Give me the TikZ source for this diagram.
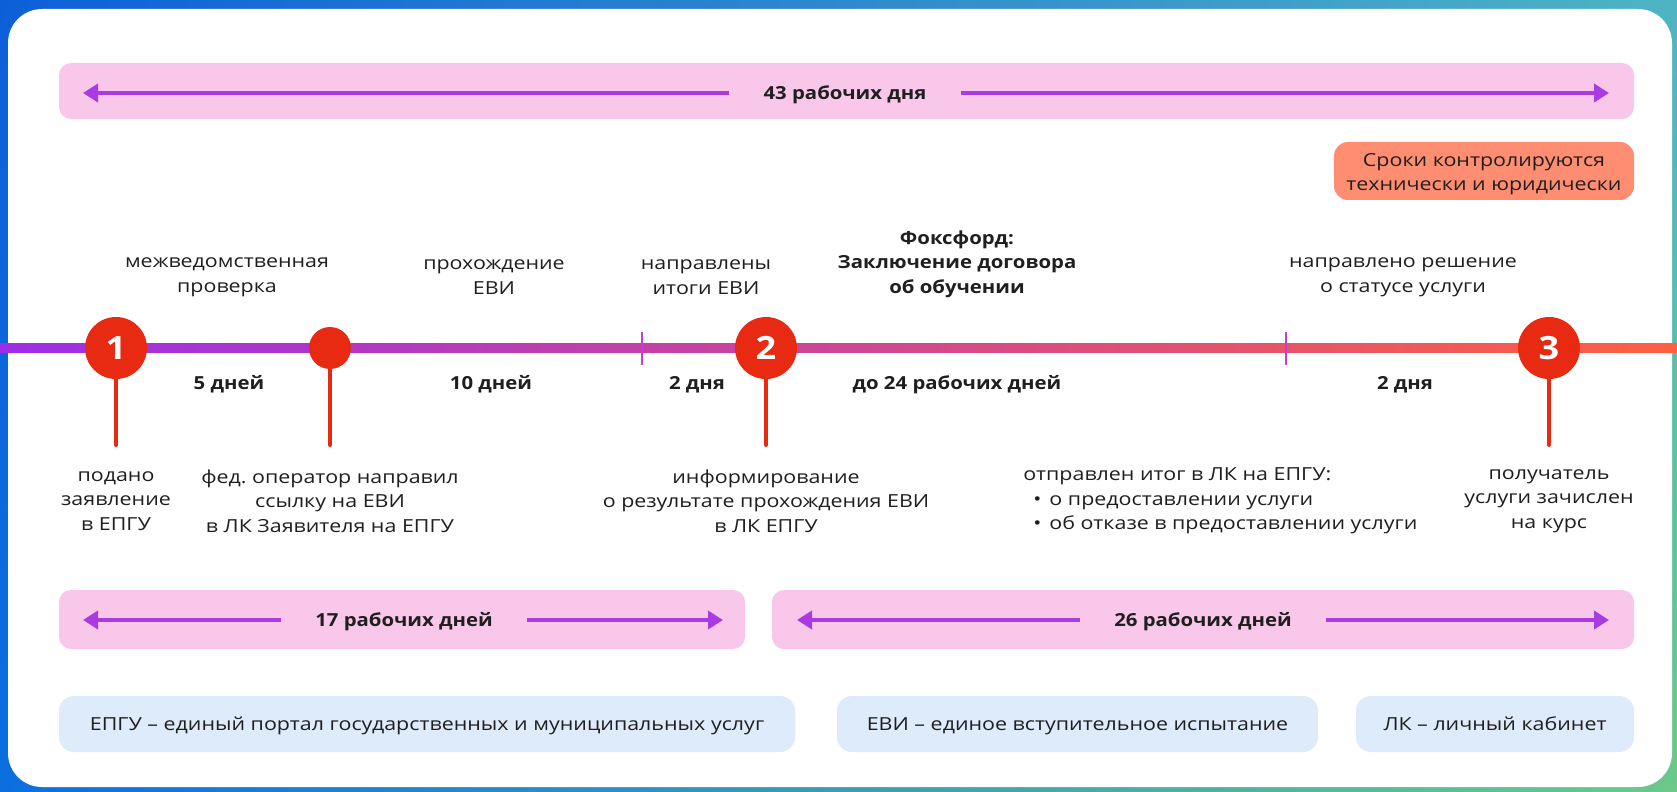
\documentclass[tikz,border=0pt]{standalone}
\usepackage{fontspec}
\setmainfont{Open Sans}[UprightFeatures={FakeStretch=1.19},BoldFeatures={FakeStretch=1.13}]
\usetikzlibrary{arrows.meta,shadings}
\definecolor{txt}{HTML}{1F1F1F}
\definecolor{pinkbar}{HTML}{F9C7E9}
\definecolor{spanpurple}{HTML}{A83CE2}
\definecolor{salmon}{HTML}{FF8D72}
\definecolor{bluebox}{HTML}{DDEBFB}
\definecolor{dotred}{HTML}{E82A12}
\definecolor{tlpurple}{HTML}{9D2DE8}
\definecolor{tlmagenta}{HTML}{CC4398}
\definecolor{tlorange}{HTML}{FF6040}
\definecolor{tickpurple}{HTML}{C43CD2}
\definecolor{bgblue}{HTML}{0D5FD8}
\definecolor{bgblue2}{HTML}{0B6FE0}
\definecolor{bgteal}{HTML}{4DB4C4}
\definecolor{bggreen}{HTML}{6CC98A}
\begin{document}
\begin{tikzpicture}[x=0.5pt,y=-0.5pt,line join=round,font=\fontsize{9}{12.3}\selectfont,
	every node/.style={text=txt},
	bar/.style={fill=pinkbar,rounded corners=6pt},
	note/.style={fill=bluebox,rounded corners=7.5pt,minimum height=28pt,inner sep=0pt,text height=6.4pt,text depth=0pt},
	warn/.style={fill=salmon,rounded corners=7pt},
	dur/.style={font=\fontsize{9}{12.3}\selectfont\bfseries,inner xsep=17pt,inner ysep=0pt,text height=6.4pt,text depth=0pt},
	days/.style={font=\fontsize{9}{12.3}\selectfont\bfseries,text height=6.4pt,text depth=0pt},
	span/.style={draw=spanpurple,line width=2.2pt,-{Triangle[length=7.5pt,width=9pt]}},
	dot/.style={circle,fill=dotred,minimum size=31pt,inner sep=0pt,text=white,font=\fontsize{16}{16}\selectfont\bfseries},
	smalldot/.style={circle,fill=dotred,minimum size=21pt,inner sep=0pt},
	stem/.style={draw=dotred,line width=2pt,line cap=round},
	tick/.style={draw=tickpurple,line width=1pt},
	lbl/.style={align=center}]
	\useasboundingbox (0,0) rectangle (1677,792);
	\shade[upper left=bgblue,lower left=bgblue2,upper right=bgteal,lower right=bggreen] (0,0) rectangle (1677,792);
	\fill[white,rounded corners=17pt] (8,9) rectangle (1672,787);
	\fill[bar] (59,63) rectangle (1634,119);
	\node[dur] (d43) at (845,93) {43 рабочих дня};
	\draw[span] (d43.west) -- (83,93);
	\draw[span] (d43.east) -- (1609,93);
	\fill[warn] (1334,142) rectangle (1634,200);
	\node[lbl] (ctrl) at (1484,174) {Сроки контролируются\\технически и юридически};
	\node[lbl] (u1) at (227,277) {межведомственная\\проверка};
	\node[lbl] (u2) at (494,277) {прохождение\\ЕВИ};
	\node[lbl] (u3) at (706,277) {направлены\\итоги ЕВИ};
	\node[lbl,font=\fontsize{9}{12.3}\selectfont\bfseries] (u4) at (957,264) {Фоксфорд:\\Заключение договора\\об обучении};
	\node[lbl] (u5) at (1403,277) {направлено решение\\о статусе услуги};
	\shade[left color=tlpurple,middle color=tlmagenta,right color=tlorange] (0,343.5) rectangle (1677,352.5);
	\draw[tick] (642,332) -- (642,365);
	\draw[tick] (1286,332) -- (1286,365);
	\coordinate (s1) at (116,445);
	\coordinate (s2) at (330,445);
	\coordinate (s3) at (766,445);
	\coordinate (s4) at (1549,445);
	\draw[stem] (116,348) -- (s1);
	\draw[stem] (330,348) -- (s2);
	\draw[stem] (766,348) -- (s3);
	\draw[stem] (1549,348) -- (s4);
	\node[dot] (p1) at (116,348) {1};
	\node[smalldot] (p2) at (330,348) {};
	\node[dot] (p3) at (766,348) {2};
	\node[dot] (p4) at (1549,348) {3};
	\node[days] (t1) at (229,383) {5 дней};
	\node[days] (t2) at (491,383) {10 дней};
	\node[days] (t3) at (697,383) {2 дня};
	\node[days] (t4) at (957,383) {до 24 рабочих дней};
	\node[days] (t5) at (1405,383) {2 дня};
	\node[lbl] (b1) at (116,501) {подано\\заявление\\в ЕПГУ};
	\node[lbl] (b2) at (330,501) {фед.\ оператор направил\\ссылку на ЕВИ\\в ЛК Заявителя на ЕПГУ};
	\node[lbl] (b3) at (766,501) {информирование\\о результате прохождения ЕВИ\\в ЛК ЕПГУ};
	\node[align=left,anchor=west,inner sep=0pt] (b4) at (1023,501) {отправлен итог в ЛК на ЕПГУ:\\\hspace*{5pt}•\hspace{4pt}о предоставлении услуги\\\hspace*{5pt}•\hspace{4pt}об отказе в предоставлении услуги};
	\node[lbl] (b5) at (1549,501) {получатель\\услуги зачислен\\на курс};
	\fill[bar] (59,590) rectangle (745,649);
	\fill[bar] (772,590) rectangle (1634,649);
	\node[dur] (d17) at (404,620) {17 рабочих дней};
	\draw[span] (d17.west) -- (83,620);
	\draw[span] (d17.east) -- (723,620);
	\node[dur] (d26) at (1203,620) {26 рабочих дней};
	\draw[span] (d26.west) -- (797,620);
	\draw[span] (d26.east) -- (1609,620);
	\node[note,minimum width=368pt] (g1) at (427,724) {ЕПГУ – единый портал государственных и муниципальных услуг};
	\node[note,minimum width=240.5pt] (g2) at (1077.5,724) {ЕВИ – единое вступительное испытание};
	\node[note,minimum width=139pt] (g3) at (1495,724) {ЛК – личный кабинет};
\end{tikzpicture}
\end{document}
